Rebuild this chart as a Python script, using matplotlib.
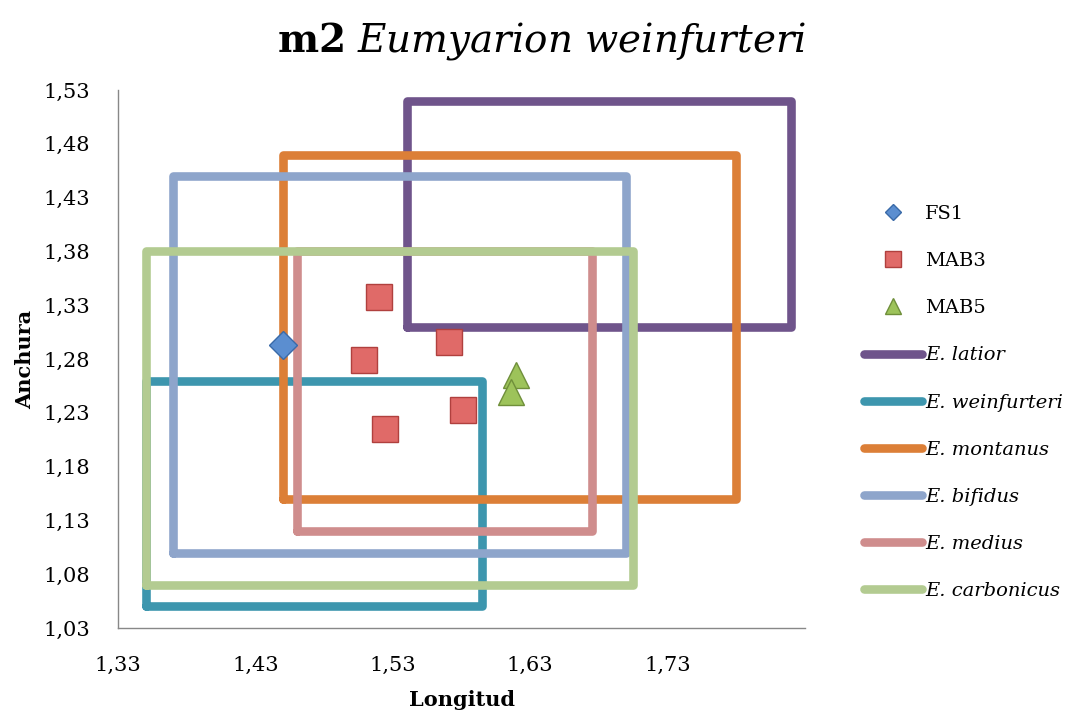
import matplotlib
matplotlib.use("Agg")
import matplotlib.pyplot as plt
from matplotlib.ticker import FuncFormatter

plt.rcParams['font.family'] = ['DejaVu Serif']
plt.rcParams['mathtext.fontset'] = 'dejavuserif'

# Species ranges (length x width)
species = ["E. latior", "E. weinfurteri", "E. montanus", "E. bifidus", "E. medius", "E. carbonicus"]
x_min = [1.54, 1.35, 1.45, 1.37, 1.46, 1.35]
x_max = [1.82, 1.595, 1.78, 1.70, 1.675, 1.705]
y_min = [1.31, 1.05, 1.15, 1.10, 1.12, 1.07]
y_max = [1.52, 1.26, 1.47, 1.45, 1.38, 1.38]
species_colors = ["#6F548B", "#3D96AE", "#DC7F37", "#8EA5CB", "#CF8D8D", "#B3CB91"]

# Measured specimens
fs1_x = [1.450]
fs1_y = [1.293]
mab3_x = [1.520, 1.509, 1.571, 1.524, 1.581]
mab3_y = [1.338, 1.279, 1.296, 1.215, 1.233]
mab5_x = [1.620, 1.616]
mab5_y = [1.265, 1.249]

x_ticks = [1.33, 1.43, 1.53, 1.63, 1.73]
y_ticks = [1.03, 1.08, 1.13, 1.18, 1.23, 1.28, 1.33, 1.38, 1.43, 1.48, 1.53]

fig = plt.figure(figsize=(10.84, 7.15), dpi=100)
ax = fig.add_axes([0.1089, 0.1217, 0.6337, 0.7524])

line_handles = []
for name, x0, x1, y0, y1, c in zip(species, x_min, x_max, y_min, y_max, species_colors):
    h, = ax.plot([x0, x1, x1, x0, x0], [y0, y0, y1, y1, y0], color=c, lw=6.2,
                 solid_joinstyle='round', solid_capstyle='round', label=name, zorder=2)
    line_handles.append(h)

h_fs1, = ax.plot(fs1_x, fs1_y, linestyle='none', marker='D', ms=14, mfc="#5B8ED0",
                 mec="#3A6AA8", mew=1.0, label="FS1", zorder=5)
h_mab3, = ax.plot(mab3_x, mab3_y, linestyle='none', marker='s', ms=19, mfc="#E06A68",
                  mec="#B0403E", mew=1.0, label="MAB3", zorder=5)
h_mab5, = ax.plot(mab5_x, mab5_y, linestyle='none', marker='^', ms=19, mfc="#9DC35A",
                  mec="#6F8F3A", mew=1.0, label="MAB5", zorder=5)

ax.set_xlim(1.33, 1.83)
ax.set_ylim(1.03, 1.53)
ax.set_xticks(x_ticks)
ax.set_yticks(y_ticks)
fmt = FuncFormatter(lambda v, p: f"{v:.2f}".replace('.', ','))
ax.xaxis.set_major_formatter(fmt)
ax.yaxis.set_major_formatter(fmt)
ax.tick_params(axis='both', length=0, labelsize=15)
ax.tick_params(axis='x', pad=20)
ax.tick_params(axis='y', pad=20)
for s in ['top', 'right']:
    ax.spines[s].set_visible(False)
for s in ['left', 'bottom']:
    ax.spines[s].set_color('#888888')
    ax.spines[s].set_linewidth(1.0)

ax.set_xlabel("Longitud", fontsize=15, fontweight='bold', labelpad=11)
ax.set_ylabel("Anchura", fontsize=15, fontweight='bold', labelpad=6)

fig.text(0.50, 0.943, r"$\mathbf{m2}$ $\mathit{Eumyarion\ weinfurteri}$", ha='center',
         va='center', fontsize=28)

handles = [h_fs1, h_mab3, h_mab5] + line_handles
labels = ["FS1", "MAB3", "MAB5"] + species
leg = fig.legend(handles, labels, loc='center left', bbox_to_anchor=(0.797, 0.437),
                 frameon=False, fontsize=14, handlelength=3.0, handletextpad=0.15,
                 labelspacing=1.5, markerscale=0.6, borderaxespad=0, borderpad=0)
for t in leg.get_texts()[3:]:
    t.set_fontstyle('italic')

fig.savefig("out.png", dpi=100)
